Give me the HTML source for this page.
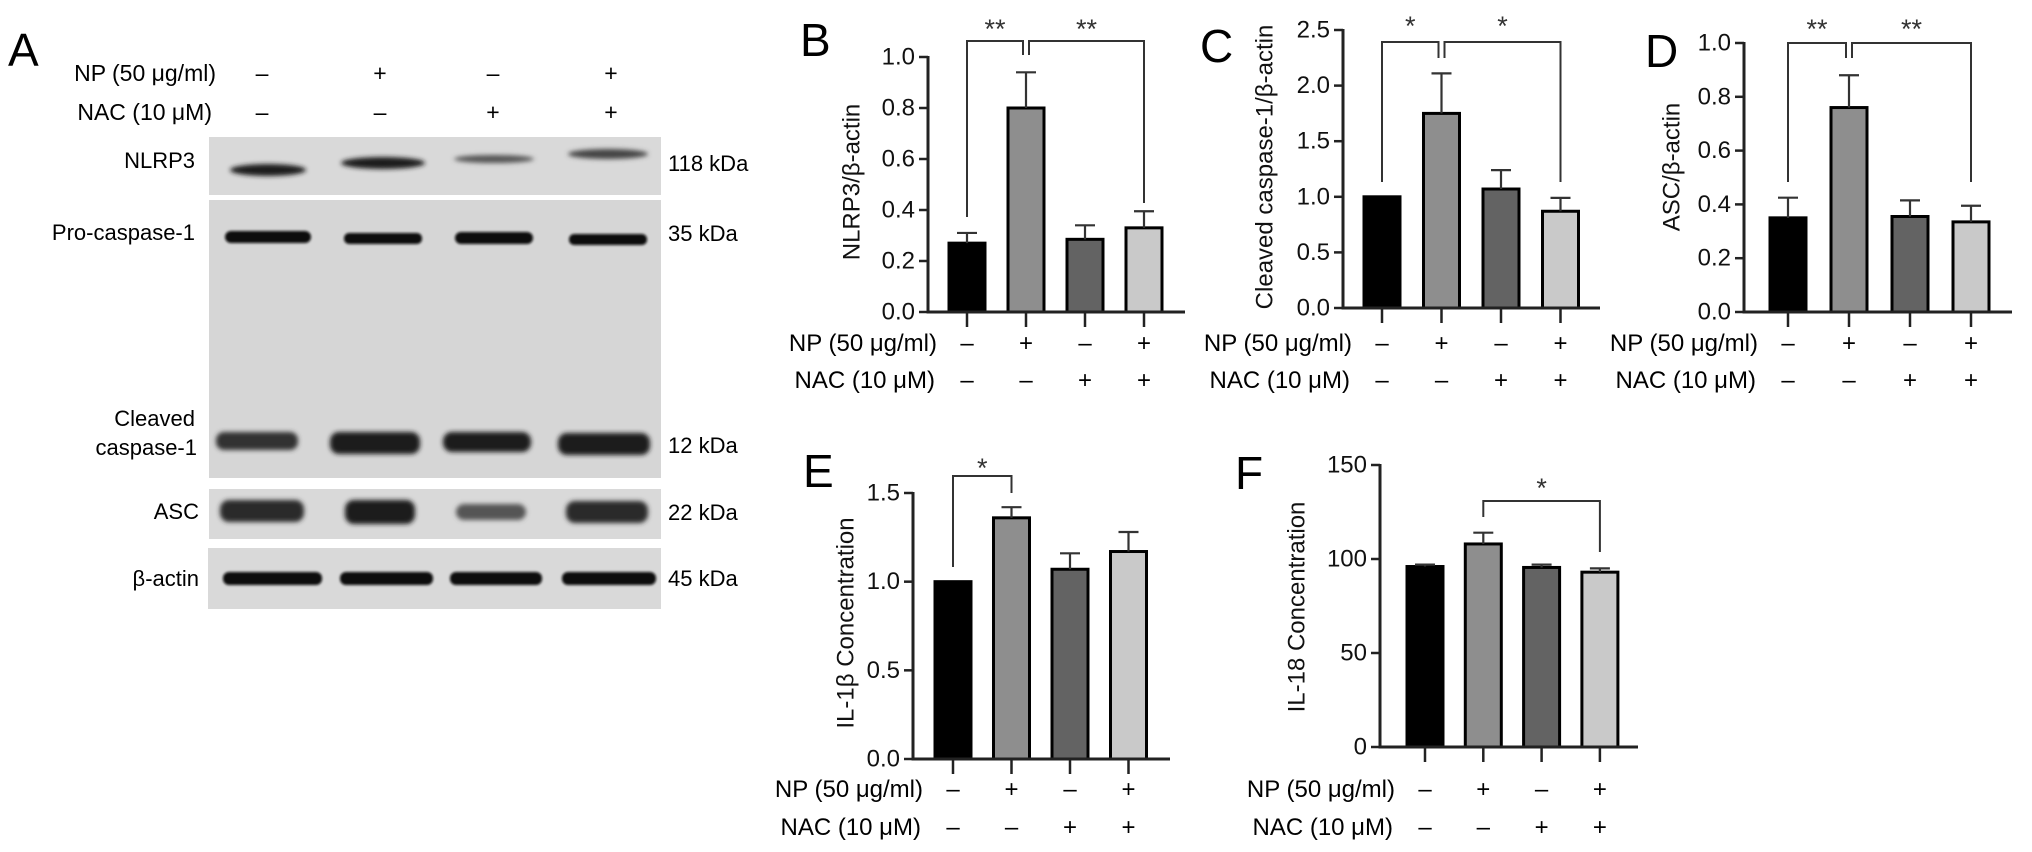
<!DOCTYPE html>
<html><head><meta charset="utf-8">
<style>
html,body{margin:0;padding:0;background:#fff;}
svg{display:block;font-family:"Liberation Sans",Arial,sans-serif;}
</style></head>
<body>
<svg id="fig" width="2032" height="852" viewBox="0 0 2032 852" xmlns="http://www.w3.org/2000/svg">
<defs>
<filter id="blur2" x="-20%" y="-100%" width="140%" height="300%"><feGaussianBlur stdDeviation="2.5"/></filter>
<filter id="blur1" x="-20%" y="-100%" width="140%" height="300%"><feGaussianBlur stdDeviation="1.4"/></filter>
</defs>
<g>
<text x="8" y="66" font-size="46">A</text>
<text x="216" y="81" font-size="23" text-anchor="end">NP (50 μg/ml)</text>
<text x="212" y="120" font-size="23" text-anchor="end">NAC (10 μM)</text>
<g font-size="23" text-anchor="middle">
<text x="262" y="81">–</text><text x="380" y="81">+</text><text x="493" y="81">–</text><text x="611" y="81">+</text></g>
<g font-size="23" text-anchor="middle">
<text x="262" y="120">–</text><text x="380" y="120">–</text><text x="493" y="120">+</text><text x="611" y="120">+</text></g>

<rect x="209" y="137" width="452" height="58" fill="#d9d9d9"/>
<g filter="url(#blur2)" fill="#1a1a1a">
<ellipse cx="268" cy="170" rx="38" ry="6"/><ellipse cx="383" cy="163" rx="42" ry="6"/>
<ellipse cx="494" cy="159" rx="40" ry="4" fill="#555"/><ellipse cx="608" cy="154" rx="40" ry="5" fill="#444"/></g>
<rect x="209" y="200" width="452" height="278" fill="#d6d6d6"/>
<g filter="url(#blur1)" fill="#0a0a0a">
<rect x="225" y="231" width="86" height="12" rx="6"/><rect x="344" y="233" width="78" height="11" rx="5"/>
<rect x="455" y="232" width="78" height="12" rx="6"/><rect x="569" y="234" width="78" height="11" rx="5"/></g>
<g filter="url(#blur2)" fill="#1a1a1a">
<rect x="216" y="432" width="82" height="18" rx="8" fill="#333"/><rect x="330" y="432" width="90" height="22" rx="9"/>
<rect x="443" y="432" width="88" height="20" rx="9"/><rect x="558" y="433" width="92" height="22" rx="9"/></g>
<rect x="209" y="489" width="452" height="50" fill="#d9d9d9"/>
<g filter="url(#blur2)" fill="#1a1a1a">
<rect x="220" y="500" width="84" height="22" rx="9" fill="#2a2a2a"/><rect x="345" y="500" width="70" height="24" rx="9"/>
<rect x="456" y="504" width="70" height="16" rx="8" fill="#555"/><rect x="566" y="501" width="82" height="22" rx="9" fill="#2a2a2a"/></g>
<rect x="208" y="548" width="453" height="61" fill="#d9d9d9"/>
<g filter="url(#blur1)" fill="#0a0a0a">
<rect x="223" y="572" width="99" height="13" rx="6"/><rect x="340" y="572" width="93" height="13" rx="6"/>
<rect x="450" y="572" width="92" height="13" rx="6"/><rect x="562" y="572" width="94" height="13" rx="6"/></g>
<g font-size="22" text-anchor="end">
<text x="195" y="168">NLRP3</text><text x="195" y="240">Pro-caspase-1</text>
<text x="195" y="426">Cleaved</text><text x="197" y="455">caspase-1</text>
<text x="199" y="519">ASC</text><text x="199" y="586">β-actin</text></g>
<g font-size="22">
<text x="668" y="171">118 kDa</text><text x="668" y="241">35 kDa</text><text x="668" y="453">12 kDa</text>
<text x="668" y="520">22 kDa</text><text x="668" y="586">45 kDa</text></g>
</g>
<g id="charts"></g>
</svg>
<script>
const categories = ['Control', 'NP', 'NAC', 'NP+NAC'];
const npSigns = ['–', '+', '–', '+'];
const nacSigns = ['–', '–', '+', '+'];
const bValues = [0.27, 0.80, 0.285, 0.33];
const bErrors = [0.04, 0.14, 0.055, 0.065];
const bTicks = [0, 0.2, 0.4, 0.6, 0.8, 1.0];
const bTickLabels = ['0.0', '0.2', '0.4', '0.6', '0.8', '1.0'];
const cValues = [1.0, 1.75, 1.07, 0.87];
const cErrors = [0, 0.36, 0.17, 0.12];
const cTicks = [0, 0.5, 1.0, 1.5, 2.0, 2.5];
const cTickLabels = ['0.0', '0.5', '1.0', '1.5', '2.0', '2.5'];
const dValues = [0.35, 0.76, 0.355, 0.335];
const dErrors = [0.075, 0.12, 0.06, 0.06];
const dTicks = [0, 0.2, 0.4, 0.6, 0.8, 1.0];
const dTickLabels = ['0.0', '0.2', '0.4', '0.6', '0.8', '1.0'];
const eValues = [1.0, 1.36, 1.07, 1.17];
const eErrors = [0, 0.06, 0.09, 0.11];
const eTicks = [0, 0.5, 1.0, 1.5];
const eTickLabels = ['0.0', '0.5', '1.0', '1.5'];
const fValues = [96, 108, 95.5, 93];
const fErrors = [1, 6, 1.5, 2];
const fTicks = [0, 50, 100, 150];
const fTickLabels = ['0', '50', '100', '150'];
const barFills = ['#000000', '#8e8e8e', '#636363', '#c9c9c9'];

const NS = 'http://www.w3.org/2000/svg';
const root = document.getElementById('charts');
function mk(tag, attrs, parent, text) {
  const el = document.createElementNS(NS, tag);
  for (const k in attrs) el.setAttribute(k, attrs[k]);
  if (text !== undefined) el.textContent = text;
  parent.appendChild(el);
  return el;
}

function drawPanel(p, values, errors, ticks, tickLabels) {
  const g = mk('g', {}, root);
  
  
  const yScale = v => p.y0 - (v / p.max) * (p.y0 - p.yTop);
  const xScale = i => p.ax + p.off + p.sp * i;
  const letter = mk('text', {x: p.lx, y: p.ly, 'font-size': 46}, g, p.id.toUpperCase());
  
  
  const title = mk('text', {transform: 'translate(' + p.tx + ',' + p.ty + ') rotate(-90)', 'text-anchor': 'middle', 'dominant-baseline': 'central', 'font-size': 24, fill: '#111'}, g, p.title);
  
  
  values.forEach((v, i) => {
    const cx = xScale(i), w = 36;
    const top = yScale(v);
    const bar = mk('rect', {x: cx - w / 2, y: top, width: w, height: p.y0 - top, fill: barFills[i], stroke: '#000', 'stroke-width': 3}, g);
    
    
    if (errors[i] > 0) {
      const ey = yScale(v + errors[i]);
      const eb = mk('path', {d: 'M' + cx + ' ' + top + 'V' + ey + 'M' + (cx - 10) + ' ' + ey + 'H' + (cx + 10), stroke: '#333', 'stroke-width': 2.2, fill: 'none'}, g);
      
      
    }
    const tk = mk('line', {x1: cx, x2: cx, y1: p.y0, y2: p.y0 + 15, stroke: '#222', 'stroke-width': 2.5}, g);
    
    
    const s1 = mk('text', {x: cx, y: p.npY + 8, 'text-anchor': 'middle', 'font-size': 24}, g, npSigns[i]);
    
    
    const s2 = mk('text', {x: cx, y: p.nacY + 8, 'text-anchor': 'middle', 'font-size': 24}, g, nacSigns[i]);
    
    
  });
  const yAxis = mk('line', {x1: p.ax, x2: p.ax, y1: yScale(ticks[ticks.length - 1]) - 1, y2: p.y0 + 1.5, stroke: '#222', 'stroke-width': 3}, g);
  
  
  const xAxis = mk('line', {x1: p.ax - 1.5, x2: p.ax + p.len, y1: p.y0, y2: p.y0, stroke: '#222', 'stroke-width': 3}, g);
  
  
  ticks.forEach((t, i) => {
    const y = yScale(t);
    const tl = mk('line', {x1: p.ax - 9, x2: p.ax, y1: y, y2: y, stroke: '#222', 'stroke-width': 2.5}, g);
    
    
    const lb = mk('text', {x: p.ax - 13, y: y, 'text-anchor': 'end', 'dominant-baseline': 'central', 'font-size': 24, fill: '#111'}, g, tickLabels[i]);
    
    
  });
  const nl = mk('text', {x: xScale(0) - 30, y: p.npY + 8, 'text-anchor': 'end', 'font-size': 24}, g, 'NP (50 μg/ml)');
  
  
  const al = mk('text', {x: xScale(0) - 32, y: p.nacY + 8, 'text-anchor': 'end', 'font-size': 24}, g, 'NAC (10 μM)');
  
  
  p.brackets.forEach((b, k) => {
    const x1 = xScale(b.i) + (b.dl || 0), x2 = xScale(b.j) + (b.dr || 0);
    const br = mk('path', {d: 'M' + x1 + ' ' + b.l + 'V' + b.top + 'H' + x2 + 'V' + b.r, stroke: '#333', 'stroke-width': 2, fill: 'none'}, g);
    
    
    const st = mk('text', {x: (x1 + x2) / 2, y: b.sy + 15, 'text-anchor': 'middle', 'font-size': 27, fill: '#333'}, g, b.stars);
    
    
  });
}

drawPanel({id: 'b', ax: 928, off: 39, sp: 59, len: 257, y0: 312, yTop: 57, max: 1.0, lx: 800, ly: 56, tx: 852, ty: 182, title: 'NLRP3/β-actin', npY: 343, nacY: 380,
  brackets: [{i: 0, j: 1, dr: -3, l: 217, r: 55, top: 41, sy: 23, stars: '**'}, {i: 1, j: 3, dl: 3, l: 55, r: 203, top: 41, sy: 23, stars: '**'}]},
  bValues, bErrors, bTicks, bTickLabels);
drawPanel({id: 'c', ax: 1343, off: 39, sp: 59.5, len: 257, y0: 308, yTop: 30, max: 2.5, lx: 1200, ly: 62, tx: 1265, ty: 167, title: 'Cleaved caspase-1/β-actin', npY: 343, nacY: 380,
  brackets: [{i: 0, j: 1, dr: -3, l: 182, r: 58, top: 42, sy: 20, stars: '*'}, {i: 1, j: 3, dl: 3, l: 58, r: 182, top: 42, sy: 20, stars: '*'}]},
  cValues, cErrors, cTicks, cTickLabels);
drawPanel({id: 'd', ax: 1744, off: 44, sp: 61, len: 268, y0: 312, yTop: 43, max: 1.0, lx: 1645, ly: 67, tx: 1672, ty: 167, title: 'ASC/β-actin', npY: 343, nacY: 380,
  brackets: [{i: 0, j: 1, dr: -3, l: 182, r: 58, top: 43, sy: 23, stars: '**'}, {i: 1, j: 3, dl: 3, l: 58, r: 182, top: 43, sy: 23, stars: '**'}]},
  dValues, dErrors, dTicks, dTickLabels);
drawPanel({id: 'e', ax: 913, off: 40, sp: 58.5, len: 257, y0: 759, yTop: 493, max: 1.5, lx: 803, ly: 487, tx: 846, ty: 623, title: 'IL-1β Concentration', npY: 789, nacY: 827,
  brackets: [{i: 0, j: 1, l: 567, r: 493, top: 476, sy: 462, stars: '*'}]},
  eValues, eErrors, eTicks, eTickLabels);
drawPanel({id: 'f', ax: 1380, off: 45, sp: 58.3, len: 258, y0: 747, yTop: 465, max: 150, lx: 1235, ly: 489, tx: 1297, ty: 607, title: 'IL-18 Concentration', npY: 789, nacY: 827,
  brackets: [{i: 1, j: 3, l: 517, r: 552, top: 501, sy: 482, stars: '*'}]},
  fValues, fErrors, fTicks, fTickLabels);
</script>
</body></html>
